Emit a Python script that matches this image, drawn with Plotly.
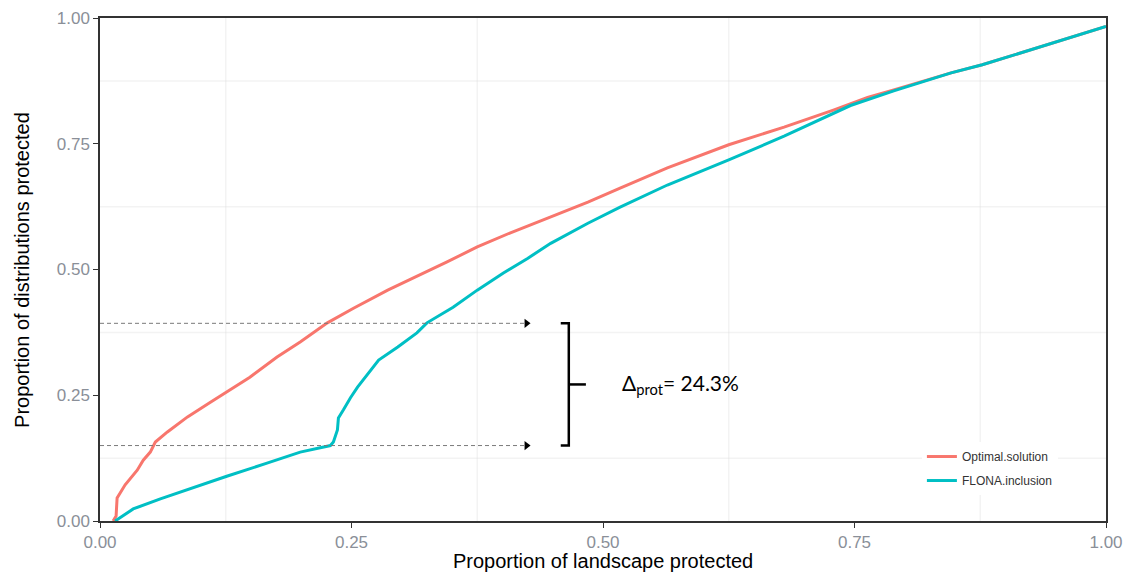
import plotly.graph_objects as go

# Cumulative protection curves
opt_x = [0.013, 0.016, 0.017, 0.025, 0.037, 0.043, 0.050, 0.055, 0.067, 0.087, 0.109,
         0.126, 0.149, 0.176, 0.199, 0.226, 0.252, 0.286, 0.318, 0.345, 0.375, 0.408,
         0.445, 0.485, 0.517, 0.564, 0.625, 0.680, 0.729, 0.763, 0.789, 0.846, 0.877, 1.0]
opt_y = [0.000, 0.010, 0.046, 0.072, 0.101, 0.121, 0.137, 0.157, 0.177, 0.207, 0.235,
         0.256, 0.286, 0.326, 0.356, 0.394, 0.423, 0.459, 0.489, 0.515, 0.545, 0.573,
         0.602, 0.634, 0.662, 0.702, 0.748, 0.783, 0.817, 0.842, 0.857, 0.891, 0.907, 0.983]

flona_x = [0.015, 0.033, 0.060, 0.083, 0.126, 0.166, 0.199, 0.229, 0.232, 0.236, 0.237,
           0.242, 0.249, 0.256, 0.269, 0.277, 0.296, 0.315, 0.325, 0.351, 0.375, 0.401,
           0.425, 0.448, 0.485, 0.517, 0.564, 0.625, 0.680, 0.713, 0.746, 0.789, 0.846,
           0.877, 1.0]
flona_y = [0.000, 0.024, 0.044, 0.060, 0.089, 0.115, 0.137, 0.150, 0.157, 0.181, 0.205,
           0.221, 0.245, 0.266, 0.300, 0.320, 0.346, 0.374, 0.394, 0.425, 0.459, 0.493,
           0.522, 0.552, 0.592, 0.624, 0.668, 0.718, 0.765, 0.795, 0.826, 0.855, 0.891,
           0.907, 0.983]

series_names = ["Optimal.solution", "FLONA.inclusion"]
series_colors = ["#F8766D", "#00BFC4"]

# Protection levels compared at the FLONA landscape share
y_opt_level = 0.393
y_flona_level = 0.150
guide_end_x = 0.428
bracket_x = 0.466
bracket_serif_x = 0.458
bracket_tick_x = 0.483
label_x = 0.517

tick_vals = [0.0, 0.25, 0.5, 0.75, 1.0]
tick_text = ["0.00", "0.25", "0.50", "0.75", "1.00"]
grid_vals = [0.125, 0.375, 0.625, 0.875]

x_title = "Proportion of landscape protected"
y_title = "Proportion of distributions protected"

fig = go.Figure()

# Light grid at the in-between positions only
for g in grid_vals:
    fig.add_shape(type="line", xref="x", yref="paper", x0=g, x1=g, y0=0, y1=1,
                  line=dict(color="#dadada", width=1.5), layer="below")
    fig.add_shape(type="line", xref="paper", yref="y", x0=0, x1=1, y0=g, y1=g,
                  line=dict(color="#dadada", width=1.5), layer="below")

for i, (name, xs, ys, col) in enumerate(zip(series_names, [opt_x, flona_x],
                                              [opt_y, flona_y], series_colors)):
    fig.add_trace(go.Scatter(x=xs, y=ys, mode="lines", name=name, legendgroup=f"g{i}",
                             line=dict(color=col, width=3)))

# Dashed guides with arrow tips
for lvl in [y_opt_level, y_flona_level]:
    fig.add_trace(go.Scatter(x=[0, guide_end_x - 0.006], y=[lvl, lvl], mode="lines",
                             line=dict(color="#7a7a7a", width=1, dash="4px,3px"),
                             showlegend=False, hoverinfo="skip"))
    fig.add_trace(go.Scatter(x=[guide_end_x - 0.004], y=[lvl], mode="markers",
                             marker=dict(symbol="triangle-right", size=8, color="black"),
                             showlegend=False, hoverinfo="skip"))

# Bracket spanning the gap
mid = (y_opt_level + y_flona_level) / 2
fig.add_trace(go.Scatter(
    x=[bracket_serif_x, bracket_x, bracket_x, bracket_serif_x, None, bracket_x, bracket_tick_x],
    y=[y_opt_level, y_opt_level, y_flona_level, y_flona_level, None, mid, mid],
    mode="lines", line=dict(color="black", width=2.5),
    showlegend=False, hoverinfo="skip"))

gap_pct = (y_opt_level - y_flona_level) * 100
fig.add_annotation(x=label_x, y=mid, xref="x", yref="y", xanchor="left", yanchor="middle",
                   text=f"Δ<sub>prot</sub>= {gap_pct:.1f}%", showarrow=False,
                   font=dict(family="Lato", size=21, color="black"))

# Axis titles
fig.add_annotation(x=0.5, y=-0.0795, xref="paper", yref="paper", xanchor="center",
                   yanchor="middle", text=x_title, showarrow=False,
                   font=dict(family="Liberation Sans", size=20, color="black"))
fig.add_annotation(x=-0.0776, y=0.499, xref="paper", yref="paper", xanchor="center",
                   yanchor="middle", text=y_title, showarrow=False, textangle=-90,
                   font=dict(family="Liberation Sans", size=20, color="black"))

axis_common = dict(
    range=[0, 1], tickvals=tick_vals, ticktext=tick_text,
    showgrid=False, gridcolor="rgba(0,0,0,0)", gridwidth=0,
    zeroline=False, automargin=False,
    showline=True, mirror=True, linecolor="#333333", linewidth=1.5,
    ticks="outside", ticklen=5, tickwidth=1, tickcolor="#333333",
    tickfont=dict(family="Liberation Sans", size=17, color="#8a8f98"),
)

fig.update_layout(
    template="simple_white",
    width=1130, height=572,
    margin=dict(l=100, r=24, t=18, b=51),
    paper_bgcolor="white", plot_bgcolor="white",
    legend=dict(x=0.817, y=0.157, xanchor="left", yanchor="top", bgcolor="white",
                font=dict(family="Liberation Sans", size=12, color="#333333"),
                itemwidth=30, tracegroupgap=5),
    showlegend=True,
)
fig.update_xaxes(**axis_common)
fig.update_yaxes(**axis_common)

fig.write_html("out.html")
